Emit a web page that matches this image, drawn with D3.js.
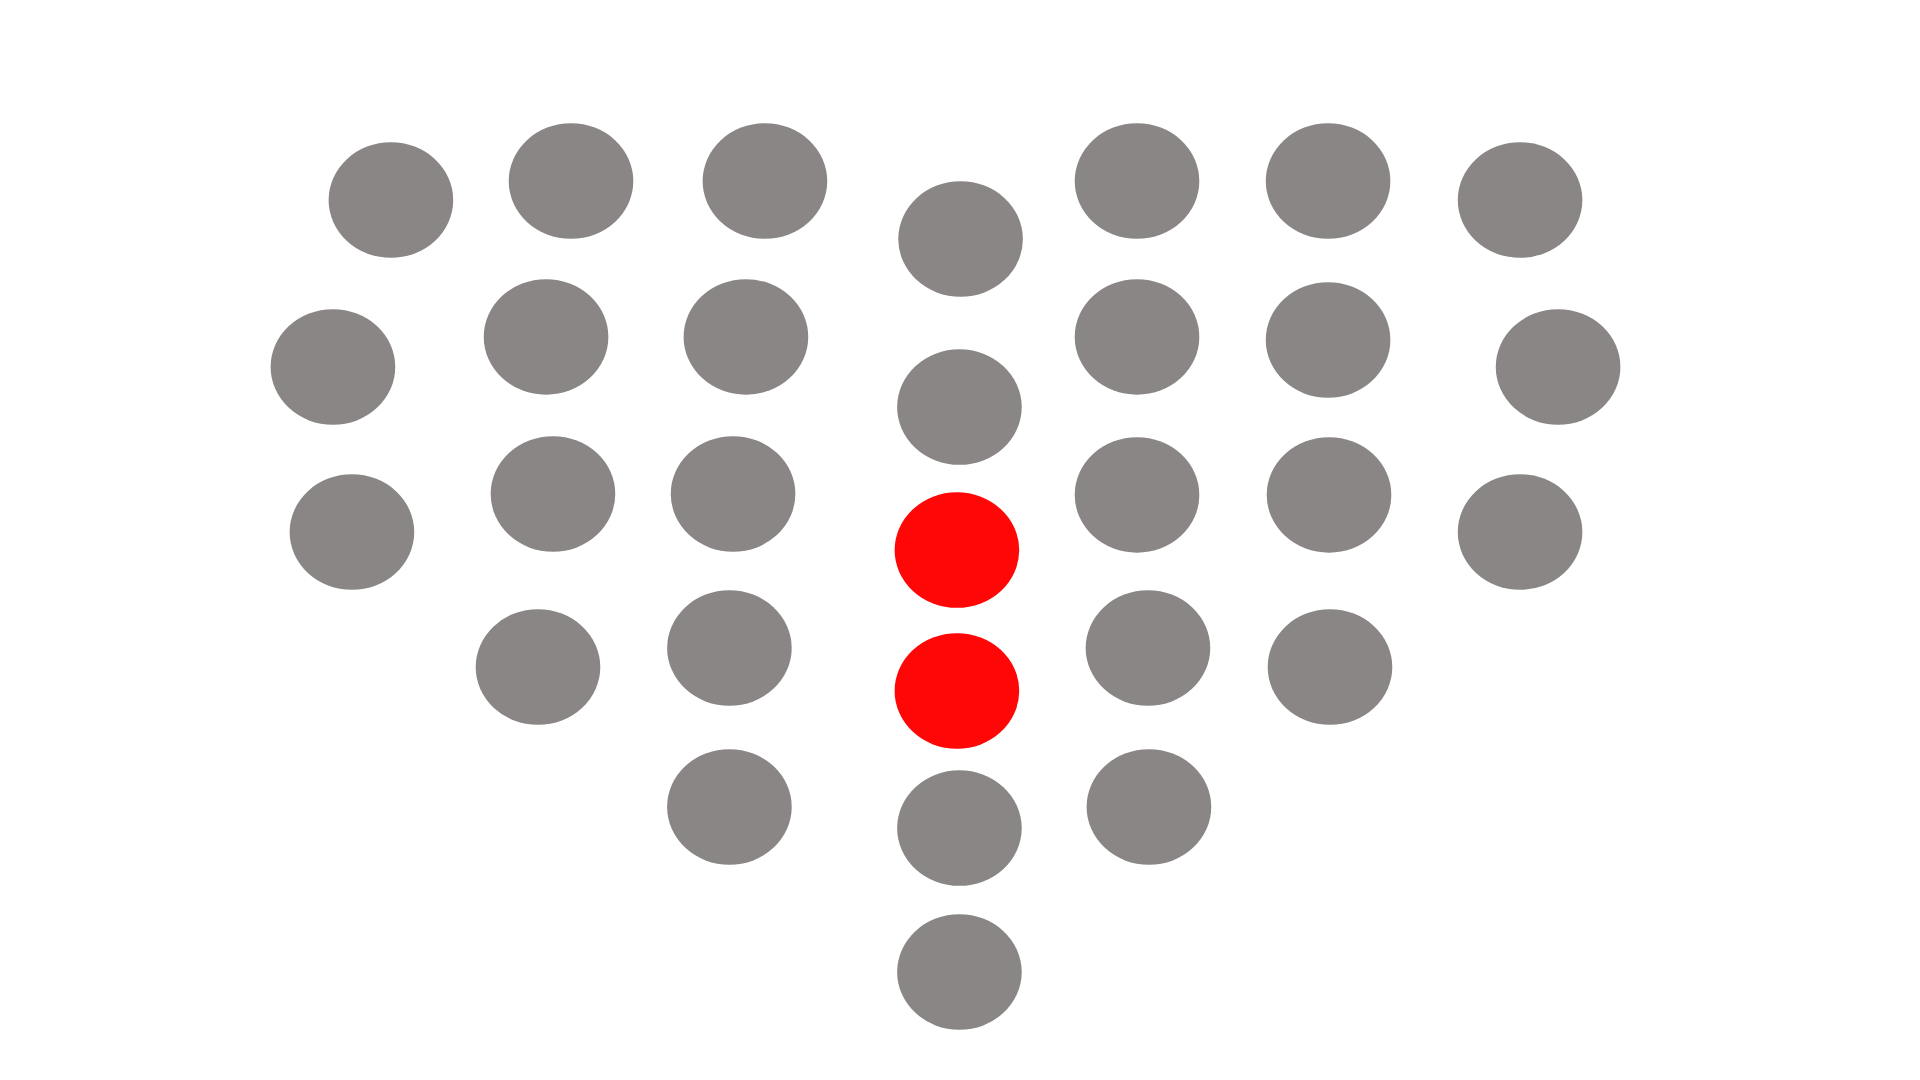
<!DOCTYPE html>
<html>
<head>
<meta charset="utf-8">
<script src="https://cdn.jsdelivr.net/npm/d3@7"></script>
<style>
  html, body { margin: 0; padding: 0; background: #ffffff; }
  svg { display: block; }
</style>
</head>
<body>
<svg id="chart" width="1920" height="1080"></svg>
<script>
// Data (x, y positions in chart units 0–100; y increases upward)
const xValues = [20.36, 17.34, 18.33, 29.74, 28.44, 28.80, 28.02, 39.84, 38.85, 38.18,
                 37.99, 37.99, 50.03, 49.97, 49.84, 49.84, 49.97, 49.97, 59.22, 59.22,
                 59.22, 59.79, 59.84, 69.17, 69.17, 69.22, 69.27, 79.17, 81.15, 79.17];
const yValues = [81.48, 66.02, 50.74, 83.24, 68.80, 54.26, 38.24, 83.24, 68.80, 54.26,
                 40.00, 25.28, 77.87, 62.31, 49.07, 36.02, 23.33, 10.00, 83.24, 68.80,
                 54.17, 40.00, 25.28, 83.24, 68.52, 54.17, 38.24, 81.48, 66.02, 50.74];
const groups  = ["other","other","other","other","other","other","other","other","other","other",
                 "other","other","other","other","highlight","highlight","other","other","other","other",
                 "other","other","other","other","other","other","other","other","other","other"];

const W = 1920, H = 1080;
const svg = d3.select("#chart");

const x = d3.scaleLinear().domain([0, 100]).range([0, W]);
const y = d3.scaleLinear().domain([0, 100]).range([H, 0]);
const color = d3.scaleOrdinal().domain(["other", "highlight"]).range(["#8a8685", "#ff0707"]);

const points = xValues.map((v, i) => ({ x: v, y: yValues[i], g: groups[i] }));

svg.append("g")
  .selectAll("ellipse")
  .data(points)
  .join("ellipse")
  .attr("cx", d => x(d.x))
  .attr("cy", d => y(d.y))
  .attr("rx", 62.3)
  .attr("ry", 57.8)
  .attr("fill", d => color(d.g));
</script>
</body>
</html>
